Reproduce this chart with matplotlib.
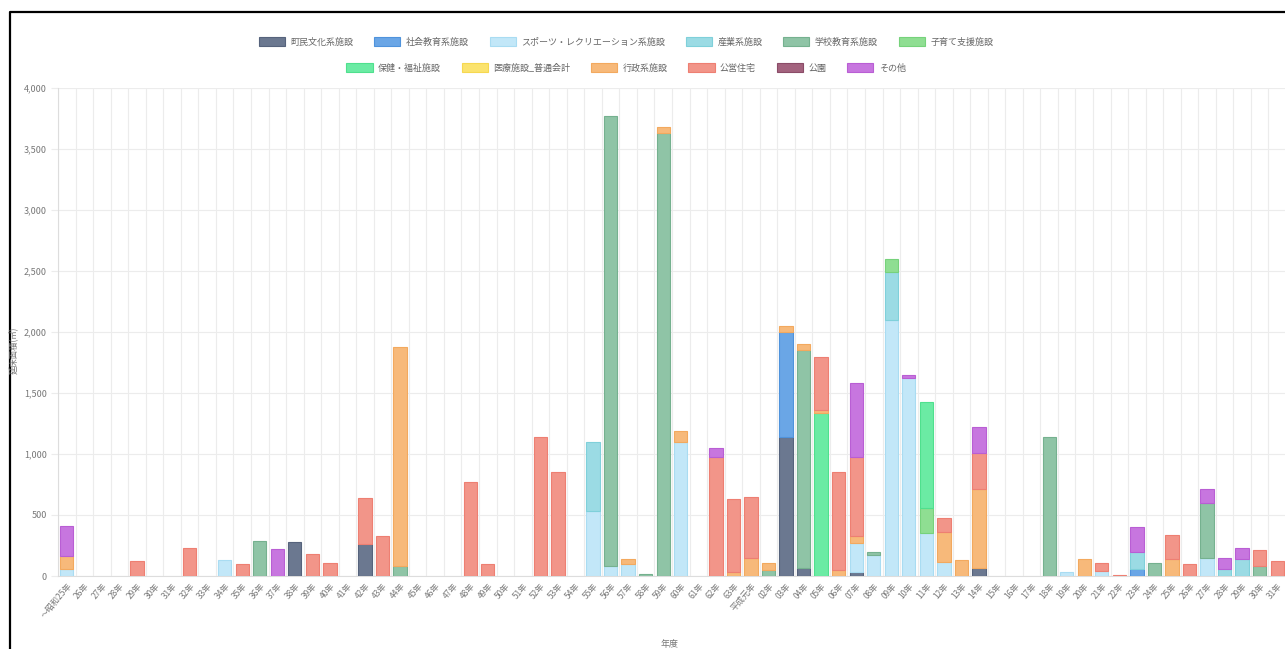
import matplotlib
matplotlib.use("Agg")
import matplotlib.pyplot as plt
from matplotlib.patches import Patch
from matplotlib.lines import Line2D
import numpy as np

plt.rcParams['font.family'] = ['Noto Sans CJK JP', 'DejaVu Sans']

# x categories (年度)
years = (["～昭和25年"] + [f"{n}年" for n in range(26, 64)]
         + ["平成元年"] + [f"{n:02d}年" for n in range(2, 32)])
N = len(years)


def series(points):
    v = [0] * N
    for i, val in points.items():
        v[i] = val
    return v


# floor area (㎡) per category, by facility type
chomin_bunka = series({13: 280, 17: 260, 41: 1140, 42: 65, 45: 35, 52: 65})
shakai_kyoiku = series({41: 860, 61: 60})
sports = series({0: 60, 9: 135, 30: 530, 31: 80, 32: 95, 35: 1100, 45: 235,
                  46: 172, 47: 2098, 48: 1623, 49: 350, 50: 115, 57: 30,
                  59: 40, 65: 150})
sangyo = series({30: 570, 47: 392, 61: 140, 66: 60, 67: 140})
gakko = series({11: 285, 19: 80, 31: 3690, 33: 15, 34: 3630, 40: 50, 42: 1785,
                46: 25, 56: 1140, 62: 110, 65: 450, 68: 80})
kosodate = series({47: 110, 49: 207})
hoken = series({43: 1336, 49: 869})
iryo = series({})
gyosei = series({0: 100, 19: 1795, 32: 45, 34: 50, 35: 90, 38: 30, 39: 145,
                 40: 57, 41: 50, 42: 50, 43: 24, 44: 50, 45: 58, 50: 245,
                 51: 135, 52: 648, 58: 140, 63: 140})
koei = series({4: 120, 7: 230, 10: 100, 14: 180, 15: 110, 17: 380, 18: 330,
               23: 770, 24: 100, 27: 1140, 28: 855, 37: 975, 38: 600, 39: 500,
               43: 435, 44: 803, 45: 647, 50: 115, 52: 295, 59: 70, 60: 12,
               63: 200, 64: 100, 68: 130, 69: 120})
koen = series({})
sonota = series({0: 250, 12: 225, 37: 75, 45: 607, 48: 25, 52: 213, 61: 200,
                 65: 110, 66: 90, 67: 90})

names = ["町民文化系施設", "社会教育系施設", "スポーツ・レクリエーション系施設",
         "産業系施設", "学校教育系施設", "子育て支援施設", "保健・福祉施設",
         "医療施設_普通会計", "行政系施設", "公営住宅", "公園", "その他"]
data = [chomin_bunka, shakai_kyoiku, sports, sangyo, gakko, kosodate, hoken,
        iryo, gyosei, koei, koen, sonota]
colors = ["#6b7890", "#6aa6e6", "#c2e7f8", "#9bdbe4", "#8fc4a6", "#8fde92",
          "#6beba4", "#fbe36e", "#f7b97a", "#f29589", "#a3637e", "#c776df"]
edges = ["#56637c", "#4f93dc", "#a9dcf2", "#7fd0da", "#75b18f", "#76d27b",
         "#4fe08e", "#f6d850", "#f3a95e", "#ee7f72", "#8b4c68", "#b95ed4"]

fig = plt.figure(figsize=(12.85, 6.49), dpi=100)
ax = fig.add_axes([58 / 1285, 73 / 649, 1228 / 1285, 488 / 649])

x = np.arange(N)
bottom = np.zeros(N)
for vals, c, ec in zip(data, colors, edges):
    vals = np.array(vals, dtype=float)
    m = vals > 0
    if m.any():
        ax.bar(x[m], vals[m], width=0.76, bottom=bottom[m], color=c, edgecolor=ec,
               linewidth=0.8, zorder=3)
    bottom += vals

ax.set_xlim(-0.5, N - 0.5)
ax.set_ylim(0, 4000)
ax.set_yticks(range(0, 4001, 500))
ax.set_yticklabels([f"{v:,}" for v in range(0, 4001, 500)], fontsize=6.5, color="#777777")
ax.set_xticks(x)
ax.set_xticklabels(years, rotation=50, ha="right", rotation_mode="anchor",
                   fontsize=6, color="#777777")
ax.set_xticks(np.arange(-0.5, N, 1), minor=True)
ax.grid(which="minor", axis="x", color="#ececec", linewidth=0.8, zorder=0)
ax.grid(which="major", axis="y", color="#ececec", linewidth=0.8, zorder=0)
ax.tick_params(axis="x", which="both", length=0, pad=4)
ax.tick_params(axis="y", length=5, color="#ececec", pad=3)
for s in ["top", "right"]:
    ax.spines[s].set_visible(False)
for s in ["left", "bottom"]:
    ax.spines[s].set_color("#dddddd")

fig.text(14 / 1285, 1 - 350 / 649, "延床面積(㎡)", rotation=90, fontsize=6,
         color="#777777", ha="center", va="center")
fig.text(670 / 1285, 1 - 644 / 649, "年度", fontsize=6.5, color="#777777",
         ha="center", va="center")

handles = [Patch(facecolor=c, edgecolor=ec, linewidth=0.8) for c, ec in zip(colors, edges)]
for row, ypos in [(slice(0, 6), 1 - 42 / 649), (slice(6, 12), 1 - 68 / 649)]:
    fig.legend(handles[row], names[row], loc="center", bbox_to_anchor=(626 / 1285, ypos),
               ncol=6, frameon=False, fontsize=6.5, labelcolor="#666666",
               handlelength=2.9, handleheight=1.1, handletextpad=0.6,
               columnspacing=2.3, borderpad=0)

# figure frame
fig.add_artist(Line2D([10 / 1285, 10 / 1285, 1.0], [0.0, 1 - 12 / 649, 1 - 12 / 649],
                      color="black", linewidth=1.6, transform=fig.transFigure))

fig.savefig("out.png", dpi=100)
